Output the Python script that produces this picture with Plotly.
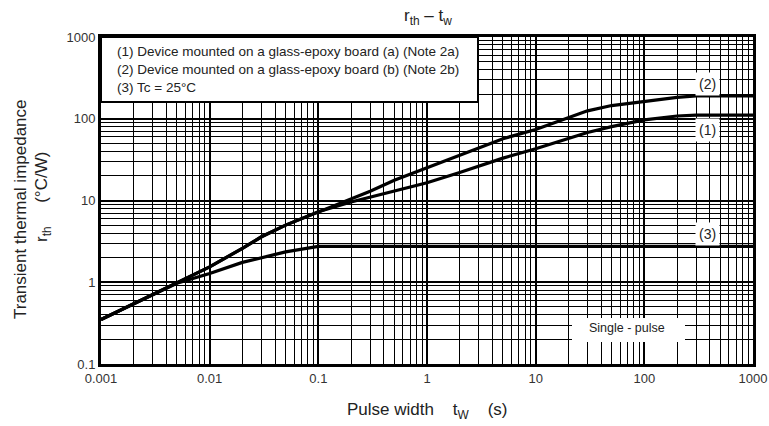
import plotly.graph_objects as go

# ---- data ----
tw_12 = [0.001, 0.002, 0.003, 0.005, 0.01, 0.02, 0.03, 0.05, 0.1, 0.2, 0.3, 0.5,
         1, 2, 3, 5, 10, 20, 30, 50, 100, 200, 300, 1000]
rth_1 = [0.35, 0.55, 0.7, 1.0, 1.54, 2.6, 3.6, 5.0, 7.3, 9.6, 11.0, 13.3,
         16.5, 22, 26.5, 33, 43, 57, 68, 80, 97, 108, 111, 111]
rth_2 = [0.35, 0.55, 0.7, 1.0, 1.54, 2.6, 3.6, 5.0, 7.3, 10.5, 13.0, 17.7,
         25, 36, 44, 57, 74, 104, 125, 145, 162, 183, 190, 190]
tw_3 = [0.001, 0.002, 0.003, 0.005, 0.01, 0.02, 0.03, 0.05, 0.1, 1000]
rth_3 = [0.35, 0.55, 0.7, 0.97, 1.28, 1.75, 2.0, 2.35, 2.75, 2.75]

x_tickvals = [0.001, 0.01, 0.1, 1, 10, 100, 1000]
x_ticktext = ["0.001", "0.01", "0.1", "1", "10", "100", "1000"]
y_tickvals = [0.1, 1, 10, 100, 1000]
y_ticktext = ["0.1", "1", "10", "100", "1000"]

legend_lines = [
    "(1) Device mounted on a glass-epoxy board (a) (Note 2a)",
    "(2) Device mounted on a glass-epoxy board (b) (Note 2b)",
    "(3) Tc = 25°C",
]
curve_labels = ["(2)", "(1)", "(3)"]

FONT = "Arial, Liberation Sans, sans-serif"
TXT = "#222222"

W, H = 769, 426
PL, PR, PT, PB = 101, 753, 37, 364   # plot area in pixels


def px(x):
    return (x - PL) / (PR - PL)


def py(y):
    return (PB - y) / (PB - PT)


fig = go.Figure()
for xs, ys in [(tw_12, rth_1), (tw_12, rth_2), (tw_3, rth_3)]:
    fig.add_trace(go.Scatter(x=xs, y=ys, mode="lines",
                             line=dict(color="black", width=3.2),
                             showlegend=False, hoverinfo="skip"))

axis_common = dict(
    type="log", showline=True, linecolor="black", linewidth=3, mirror=True,
    showgrid=True, gridcolor="black", gridwidth=2.4, zeroline=False, automargin=False,
    ticks="", tickfont=dict(family=FONT, size=13, color="#333333"),
    minor=dict(dtick="D1", showgrid=True, gridcolor="black", gridwidth=1, ticks=""),
)
fig.update_xaxes(range=[-3, 3], tickvals=x_tickvals, ticktext=x_ticktext, **axis_common)
fig.update_yaxes(range=[-1, 3], tickvals=y_tickvals, ticktext=y_ticktext, **axis_common)


def ann(x, y, text, size, **kw):
    d = dict(xref="paper", yref="paper", x=px(x), y=py(y), text=text, showarrow=False,
             xanchor="center", yanchor="middle", font=dict(family=FONT, size=size, color=TXT))
    d.update(kw)
    fig.add_annotation(**d)


# legend box
fig.add_shape(type="rect", xref="paper", yref="paper", x0=0, x1=px(478), y0=py(102), y1=1,
              fillcolor="white", line=dict(color="black", width=2), layer="above")
for txt, yy in zip(legend_lines, [52, 70, 88]):
    ann(115, yy, txt, 13.5, xanchor="left")

# curve labels
for txt, yy in zip(curve_labels, [84, 130, 234]):
    ann(707, yy, txt, 14, bgcolor="white", borderpad=3)

# single pulse
fig.add_shape(type="rect", xref="paper", yref="paper", x0=px(572), x1=px(685),
              y0=py(342), y1=py(318), fillcolor="white", line=dict(width=0), layer="above")
ann(627, 328, "Single - pulse", 12.5)

# titles
ann(428, 17, "r<sub>th</sub> – t<sub>w</sub>", 17)
ann(427, 411, "Pulse width    t<sub>W</sub>    (s)", 17)
ann(20, 209, "Transient thermal impedance", 17, textangle=-90)
ann(43, 197, "r<sub>th</sub>     (°C/W)", 17, textangle=-90)

fig.update_layout(width=W, height=H,
                  margin=dict(l=PL, r=W - PR, t=PT, b=H - PB),
                  paper_bgcolor="white", plot_bgcolor="white",
                  font=dict(family=FONT))
fig.write_html("out.html", config={"displayModeBar": False},
               post_script="document.body.style.margin='0px';")
